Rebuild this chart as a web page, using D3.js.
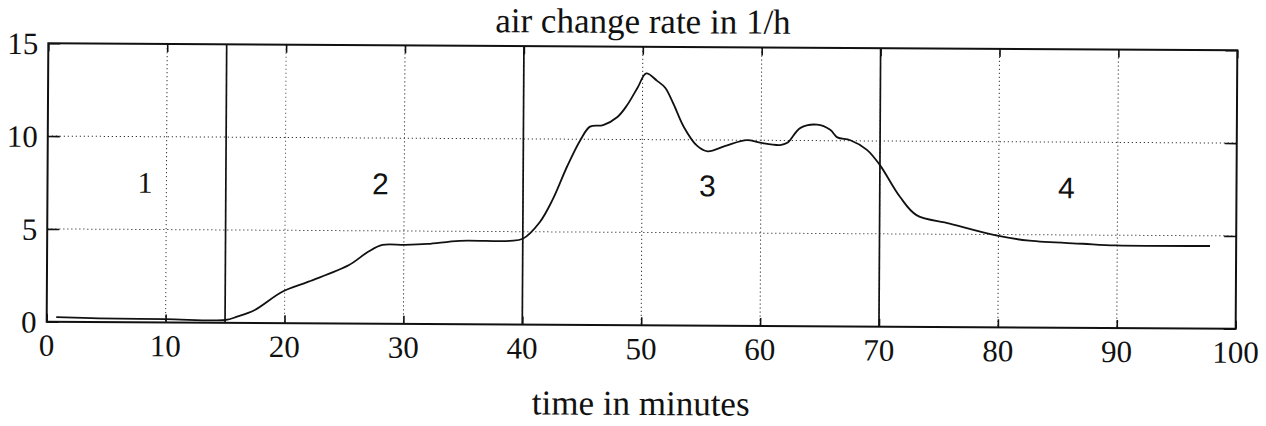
<!DOCTYPE html>
<html>
<head>
<meta charset="utf-8">
<script src="https://d3js.org/d3.v7.min.js"></script>
<style>
  body { margin: 0; background: #fff; }
  svg text { fill: #111; }
</style>
</head>
<body>
<script>
// data
var minutes = [0.8, 4.4, 10, 15, 16, 17.5, 19.8, 22, 25.4, 27, 28.2, 30.1, 32, 34.7, 38.9,
               40, 41.4, 42.5, 43.7, 44.8, 45.6, 46.7, 47.9, 48.7, 49.6, 50.3, 51.2, 51.9,
               52.6, 53.5, 54.6, 55.5, 57, 58.8, 59.9, 61.6, 62.2, 63.3, 64.7, 65.8, 66.4,
               67.5, 68.9, 70, 71.7, 73.1, 75.9, 79.8, 82.6, 87.1, 89.9, 97.8];
var airChange = [0.25, 0.2, 0.18, 0.15, 0.33, 0.7, 1.69, 2.24, 3.15, 3.87, 4.24, 4.25, 4.31, 4.49, 4.5,
                 4.62, 5.5, 6.75, 8.54, 9.96, 10.68, 10.77, 11.21, 11.84, 12.82, 13.57, 13.18, 12.8,
                 11.94, 10.68, 9.69, 9.39, 9.69, 10.0, 9.87, 9.75, 9.87, 10.68, 10.86, 10.59, 10.18,
                 10.03, 9.52, 8.7, 7.0, 6.02, 5.57, 4.95, 4.68, 4.53, 4.45, 4.45];
var phaseBounds = [15, 40, 70];
var phaseNames = ["1", "2", "3", "4"];
var phaseLabelX = [8.2, 28, 55.5, 85.7];
var xTicks = [0, 10, 20, 30, 40, 50, 60, 70, 80, 90, 100];
var yTicks = [0, 5, 10, 15];

var margin = {top: 46.75, right: 29.5, bottom: 100.75, left: 47.5},
    width = 1266 - margin.left - margin.right,
    height = 426 - margin.top - margin.bottom;

var svg = d3.select("body").append("svg")
    .attr("width", 1266)
    .attr("height", 426);
// the scanned page is turned a little clockwise
var page = svg.append("g")
    .attr("transform", "rotate(0.34,642,186)");
var g = page.append("g")
    .attr("transform", "translate(" + margin.left + "," + margin.top + ")");

var x = d3.scaleLinear().domain([0, 100]).range([0, width]);
var y = d3.scaleLinear().domain([0, 15]).range([height, 0]);

var serif = "'Liberation Serif', 'Times New Roman', serif";

// dotted grid
g.selectAll(".vgrid")
    .data(xTicks.filter(function(d){ return d > 0 && d < 100; }))
    .enter().append("line")
    .attr("x1", function(d){ return x(d); })
    .attr("x2", function(d){ return x(d); })
    .attr("y1", 0).attr("y2", height)
    .attr("stroke", "#333").attr("stroke-width", 1)
    .attr("stroke-dasharray", "1.2,2.8");
g.selectAll(".hgrid")
    .data(yTicks.filter(function(d){ return d > 0 && d < 15; }))
    .enter().append("line")
    .attr("x1", 0).attr("x2", width)
    .attr("y1", function(d){ return y(d); })
    .attr("y2", function(d){ return y(d); })
    .attr("stroke", "#333").attr("stroke-width", 1)
    .attr("stroke-dasharray", "1.2,2.8");

// inward ticks on all four sides
var xAxisB = d3.axisBottom(x).tickValues(xTicks).tickSize(-8).tickFormat("");
var xAxisT = d3.axisTop(x).tickValues(xTicks).tickSize(-8).tickFormat("");
var yAxisL = d3.axisLeft(y).tickValues(yTicks).tickSize(-12).tickFormat("");
var yAxisR = d3.axisRight(y).tickValues(yTicks).tickSize(-12).tickFormat("");
[[xAxisB, "translate(0," + height + ")"], [xAxisT, null],
 [yAxisL, null], [yAxisR, "translate(" + width + ",0)"]].forEach(function(a){
    var ax = g.append("g").call(a[0]);
    if (a[1]) ax.attr("transform", a[1]);
    ax.select(".domain").remove();
    ax.selectAll("line").attr("stroke", "#111").attr("stroke-width", 1.6);
});

// tick labels
g.selectAll(".xlab")
    .data(xTicks).enter().append("text")
    .attr("x", function(d){ return x(d); })
    .attr("y", height + 34)
    .attr("text-anchor", "middle")
    .style("font-family", serif).style("font-size", "31px")
    .text(function(d){ return d; });
g.selectAll(".ylab")
    .data(yTicks).enter().append("text")
    .attr("x", -10)
    .attr("y", function(d){ return y(d) + 11; })
    .attr("text-anchor", "end")
    .style("font-family", serif).style("font-size", "31px")
    .text(function(d){ return d; });

// phase boundaries
g.selectAll(".phase")
    .data(phaseBounds).enter().append("line")
    .attr("x1", function(d){ return x(d); })
    .attr("x2", function(d){ return x(d); })
    .attr("y1", 0).attr("y2", height)
    .attr("stroke", "#111").attr("stroke-width", 1.7);

// phase numbers
g.selectAll(".pname")
    .data(phaseNames).enter().append("text")
    .attr("x", function(d, i){ return x(phaseLabelX[i]); })
    .attr("y", y(6.97))
    .attr("text-anchor", "middle")
    .style("font-family", function(d, i){ return i == 0 ? serif : "'Liberation Sans', Arial, sans-serif"; })
    .style("font-size", "30px")
    .text(function(d){ return d; });

// curve
var line = d3.line()
    .x(function(d){ return x(d[0]); })
    .y(function(d){ return y(d[1]); })
    .curve(d3.curveCatmullRom.alpha(0.5));
g.append("path")
    .datum(d3.zip(minutes, airChange))
    .attr("fill", "none")
    .attr("stroke", "#111")
    .attr("stroke-width", 1.8)
    .attr("d", line);

// frame
g.append("rect")
    .attr("width", width).attr("height", height)
    .attr("fill", "none").attr("stroke", "#111").attr("stroke-width", 2);

// titles
page.append("text")
    .attr("x", margin.left + width / 2)
    .attr("y", 33)
    .attr("text-anchor", "middle")
    .style("font-family", serif).style("font-size", "35px")
    .text("air change rate in 1/h");
page.append("text")
    .attr("x", margin.left + width / 2)
    .attr("y", 415)
    .attr("text-anchor", "middle")
    .style("font-family", serif).style("font-size", "35px")
    .text("time in minutes");
</script>
</body>
</html>
